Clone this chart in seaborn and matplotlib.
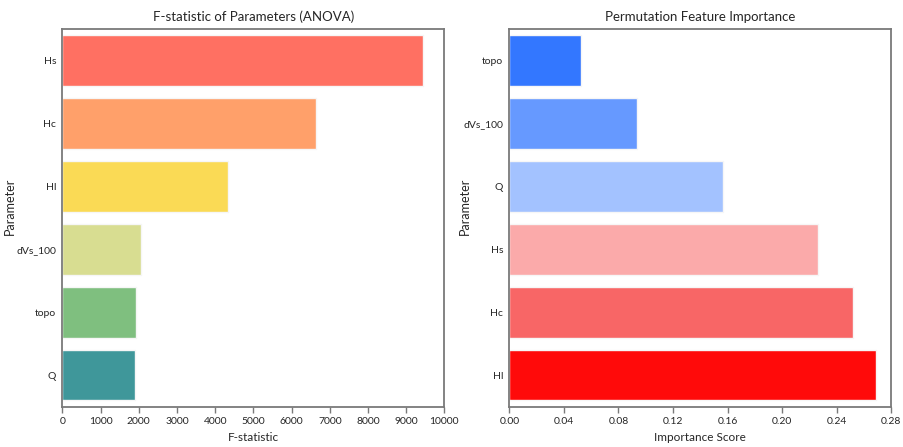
import matplotlib
matplotlib.use('Agg')
import matplotlib.pyplot as plt
import seaborn as sns
import pandas as pd

# F-statistic (ANOVA) per parameter
anova_params = ['Hs', 'Hc', 'Hl', 'dVs_100', 'topo', 'Q']
anova_values = [9450, 6640, 4340, 2060, 1930, 1900]
anova_colors = ['#FF7062', '#FFA06A', '#FADA55', '#D8DD91', '#7FBF7F', '#3F979A']

# Permutation feature importance per parameter
perm_params = ['topo', 'dVs_100', 'Q', 'Hs', 'Hc', 'Hl']
perm_values = [0.0528, 0.0935, 0.1565, 0.2265, 0.252, 0.269]
perm_colors = ['#3377FF', '#6699FF', '#A3C2FF', '#FBAAAA', '#F86666', '#FF0A0A']

sns.set_style('white')
plt.rcParams['font.family'] = ['Lato', 'DejaVu Sans']

anova_df = pd.DataFrame({'Parameter': anova_params, 'F-statistic': anova_values})
perm_df = pd.DataFrame({'Parameter': perm_params, 'Importance Score': perm_values})

fig, (ax1, ax2) = plt.subplots(1, 2, figsize=(9.04, 4.47), dpi=100)

sns.barplot(data=anova_df, x='F-statistic', y='Parameter', hue='Parameter',
            palette=anova_colors, saturation=1, legend=False,
            edgecolor='#f6f6f6', linewidth=1, ax=ax1)
ax1.set_title('F-statistic of Parameters (ANOVA)', fontsize=9.5)
ax1.set_xlim(0, 10000)
ax1.set_xticks(range(0, 10001, 1000))

sns.barplot(data=perm_df, x='Importance Score', y='Parameter', hue='Parameter',
            palette=perm_colors, saturation=1, legend=False,
            edgecolor='#f6f6f6', linewidth=1, ax=ax2)
ax2.set_title('Permutation Feature Importance', fontsize=9.5)
ax2.set_xlim(0, 0.28)
ax2.set_xticks([0, 0.04, 0.08, 0.12, 0.16, 0.20, 0.24, 0.28])
ax2.set_xticklabels(['0.00', '0.04', '0.08', '0.12', '0.16', '0.20', '0.24', '0.28'])

for ax in (ax1, ax2):
    for s in ax.spines.values():
        s.set_color('#7a7a7a')
        s.set_linewidth(1.3)
    ax.tick_params(axis='x', bottom=True, length=4, width=1, color='#7a7a7a', labelsize=7.5)
    ax.tick_params(axis='y', left=False, labelsize=7.5, pad=1)
    ax.xaxis.label.set_size(8.5)
    ax.yaxis.label.set_size(9)

ax1.yaxis.set_label_coords(-0.122, 0.53)
ax2.yaxis.set_label_coords(-0.1, 0.53)

plt.subplots_adjust(left=0.069, right=0.986, top=0.935, bottom=0.09, wspace=0.17)
plt.savefig('out.png')
plt.close()
